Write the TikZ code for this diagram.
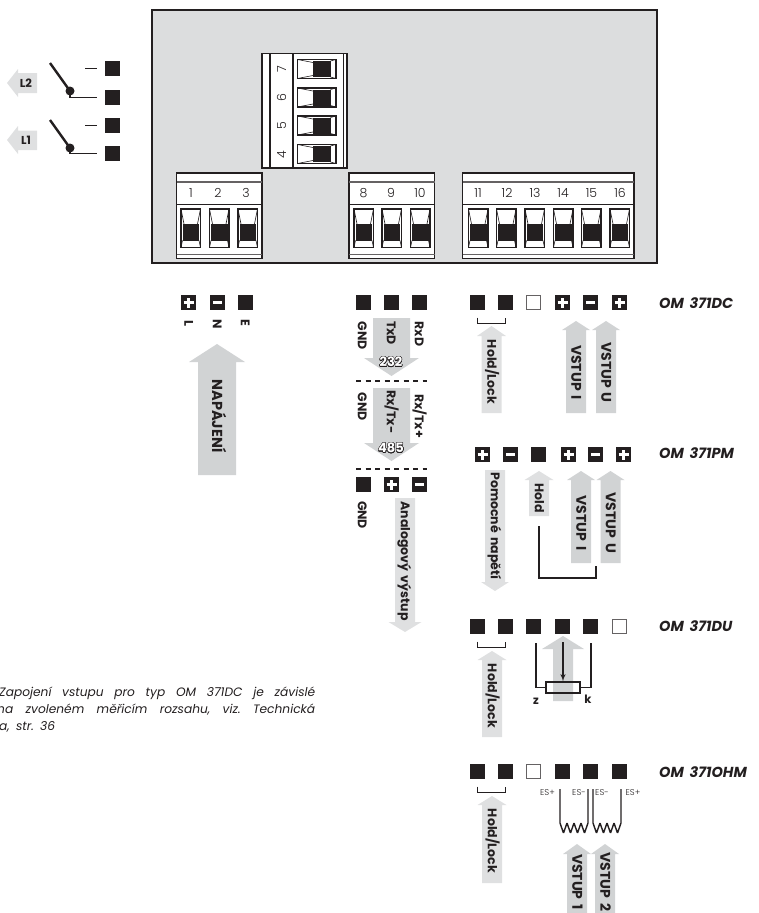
\documentclass[tikz,border=0pt]{standalone}
\usepackage{fontspec}
\usepackage{contour}
\usepackage{xcolor}
\setmainfont{Poppins}[WordSpace=1.7]
\newfontfamily\lightfont{Poppins Light}
\frenchspacing
\usetikzlibrary{arrows,calc,positioning}
\definecolor{ink}{HTML}{231F20}
\definecolor{panelgray}{HTML}{DCDDDE}
\definecolor{arrowgray}{HTML}{D1D3D4}
\definecolor{arrowlight}{HTML}{DFE0E1}
\contourlength{0.4pt}
\newcommand{\fsz}[1]{\fontsize{#1}{#1}\selectfont}
% x, half shaft, half head, y tip, y head base, y end
\newcommand{\grayarrow}[7][arrowgray]{\fill[#1] ({#2-#3},#7) -- ({#2-#3},#6) -- ({#2-#4},#6) -- (#2,#5) -- ({#2+#4},#6) -- ({#2+#3},#6) -- ({#2+#3},#7) -- cycle;}
\tikzset{%
	term/.style      = {fill=ink, rectangle, minimum size=15pt, inner sep=0pt}, % Black terminal
	termblank/.style = {draw=ink!70, fill=white, rectangle, line width=0.8pt, minimum size=14.5pt, inner sep=0pt},
	termplus/.style  = {term, path picture={\draw[white,line width=3pt] ([xshift=-5pt]path picture bounding box.center) -- ([xshift=5pt]path picture bounding box.center) ([yshift=-5pt]path picture bounding box.center) -- ([yshift=5pt]path picture bounding box.center);}},
	termminus/.style = {term, path picture={\draw[white,line width=3pt] ([xshift=-4.5pt]path picture bounding box.center) -- ([xshift=4.5pt]path picture bounding box.center);}},
	wire/.style      = {draw=ink, line width=1.4pt},
	vlabel/.style    = {rotate=-90, inner sep=0pt, text=ink, text height=8.5pt, text depth=0pt, font=\fsz{12.5}\bfseries},
	biglabel/.style  = {vlabel, text height=10pt, font=\fsz{14.5}\bfseries},
	stuplabel/.style = {vlabel, text height=9.5pt, font=\fsz{14}\bfseries},
	numlabel/.style  = {inner sep=0pt, text=ink, text height=9pt, text depth=0pt, font=\fsz{12.5}\lightfont},
	numrot/.style    = {numlabel, rotate=90},
	typelabel/.style = {anchor=west, inner sep=0pt, text=ink, text height=10pt, text depth=0pt, font=\fsz{14.5}\bfseries\itshape},
	smalllabel/.style= {inner sep=0pt, text=ink, text height=5.5pt, text depth=0pt, font=\fsz{8.5}\lightfont},
	boldlabel/.style = {inner sep=0pt, text=ink, text height=8pt, text depth=0pt, font=\fsz{11.5}\bfseries},
	outlined/.style  = {inner sep=0pt, text=white, text height=9.5pt, text depth=0pt, font=\fsz{13}\bfseries},
	notetext/.style  = {anchor=north west, inner sep=0pt, align=left, text=ink, font=\fontsize{12.2}{16.7}\selectfont\itshape},
	potbox/.style    = {draw=ink, line width=1.4pt, rectangle, minimum width=34pt, minimum height=11pt, inner sep=0pt},
	swdot/.style     = {fill=ink, circle, minimum size=9pt, inner sep=0pt},
	pics/screwv/.style = {code={
		\draw[wire,fill=white] (0,0) rectangle (19.5,38.5);
		\fill[ink] (1.5,15) rectangle (18,31.5);
		\draw[ink,line width=0.6pt] (0,0) -- (3,15) (19.5,0) -- (16.5,15) (1.5,31.5) -- (0,38.5) (18,31.5) -- (19.5,38.5);
	}},
	pics/screwh/.style = {code={
		\draw[wire,fill=white] (0,0) rectangle (38.5,19);
		\fill[ink] (15.5,1.5) rectangle (33,17.5);
		\draw[ink,line width=0.6pt] (0,0) -- (15.5,3) (0,19) -- (15.5,16) (33,1.5) -- (38.5,0) (33,17.5) -- (38.5,19);
	}},
}
\begin{document}
\begin{tikzpicture}[x=1pt,y=-1pt,>=latex']
	\useasboundingbox (0,0) rectangle (759,913);
	% case
	\draw[draw=ink,fill=panelgray,line width=2.6pt] (152,10) rectangle (657,263);
	% connector 4-7
	\draw[wire,fill=white] (262,53.5) rectangle (347,168);
	\draw[wire] (270,53.5) -- (270,168) (293,53.5) -- (293,168);
	\draw[ink,line width=0.7pt] (343.5,53.5) -- (343.5,168);
	\pic at (297.5,59.5) {screwh};
	\pic at (297.5,88) {screwh};
	\pic at (297.5,116) {screwh};
	\pic at (297.5,144.5) {screwh};
	\node[numrot] (n7) at (281.5,69) {7};
	\node[numrot] (n6) at (281.5,97.5) {6};
	\node[numrot] (n5) at (281.5,126) {5};
	\node[numrot] (n4) at (281.5,154.5) {4};
	% connectors 1-3, 8-10, 11-16
	\draw[wire,fill=white] (176.5,173) rectangle (262,258.5);
	\draw[wire,fill=white] (349,173) rectangle (434.5,258.5);
	\draw[wire,fill=white] (462.5,173) rectangle (634,258.5);
	\draw[ink!70,line width=1.2pt] (176.5,182) -- (262,182) (349,182) -- (434.5,182) (462.5,182) -- (634,182);
	\draw[wire] (176.5,204.5) -- (262,204.5) (349,204.5) -- (434.5,204.5) (462.5,204.5) -- (634,204.5);
	\draw[ink!70,line width=0.8pt] (176.5,254.5) -- (262,254.5) (349,254.5) -- (434.5,254.5) (462.5,254.5) -- (634,254.5);
	\pic at (181,209) {screwv};
	\pic at (209.5,209) {screwv};
	\pic at (238,209) {screwv};
	\pic at (354,209) {screwv};
	\pic at (382,209) {screwv};
	\pic at (410.5,209) {screwv};
	\pic at (468.5,209) {screwv};
	\pic at (496.5,209) {screwv};
	\pic at (525,209) {screwv};
	\pic at (553.5,209) {screwv};
	\pic at (581.5,209) {screwv};
	\pic at (610,209) {screwv};
	\node[numlabel] (n1) at (191,192.5) {1};
	\node[numlabel] (n2) at (218,192.5) {2};
	\node[numlabel] (n3) at (246,192.5) {3};
	\node[numlabel] (n8) at (363.5,192.5) {8};
	\node[numlabel] (n9) at (391,192.5) {9};
	\node[numlabel] (n10) at (420,192.5) {10};
	\node[numlabel] (n11) at (478,192.5) {11};
	\node[numlabel] (n12) at (507,192.5) {12};
	\node[numlabel] (n13) at (535,192.5) {13};
	\node[numlabel] (n14) at (563,192.5) {14};
	\node[numlabel] (n15) at (591.5,192.5) {15};
	\node[numlabel] (n16) at (620,192.5) {16};
	% relays
	\node[term] (k1) at (112.5,68.5) {};
	\node[term] (k2) at (112.5,97.5) {};
	\node[term] (k3) at (112.5,125.5) {};
	\node[term] (k4) at (112.5,153.5) {};
	\node[swdot] (swa) at (70,91) {};
	\node[swdot] (swb) at (70,148) {};
	\draw[ink,line width=2.4pt] (50,63) -- (swa.center);
	\draw[ink,line width=2.4pt] (50,120) -- (swb.center);
	\draw[wire] (swa.center) |- ([xshift=-7.5pt]k2.west);
	\draw[wire] (swb.center) |- ([xshift=-7.5pt]k4.west);
	\draw[wire] (85,68.5) -- ([xshift=-7.5pt]k1.west);
	\draw[wire] (85,125.5) -- ([xshift=-7.5pt]k3.west);
	\fill[arrowlight] (7,83) -- (18,69) -- (18,73) -- (37,73) -- (37,93) -- (18,93) -- (18,97) -- cycle;
	\fill[arrowlight] (7,140) -- (18,126) -- (18,130.5) -- (37,130.5) -- (37,150) -- (18,150) -- (18,154) -- cycle;
	\node[boldlabel] (l2) at (26,83) {L2};
	\node[boldlabel] (l1) at (26,140) {L1};
	% supply
	\node[termplus] (pw1) at (188.5,302.5) {};
	\node[termminus] (pw2) at (217.5,302.5) {};
	\node[term] (pw3) at (245.5,302.5) {};
	\node[vlabel] (lblL) at (188.5,323) {L};
	\node[vlabel] (lblN) at (217,324) {N};
	\node[vlabel] (lblE) at (245,323) {E};
	\grayarrow{217}{19}{28}{344}{362}{475}
	\node[biglabel] (napajeni) at (217,416) {NAPÁJENÍ};
	% serial and analog
	\node[term] (rs1) at (363.5,302.5) {};
	\node[term] (rs2) at (391.5,302.5) {};
	\node[term] (rs3) at (419.5,302.5) {};
	\grayarrow{391.5}{18.5}{27.5}{376}{358}{318}
	\node[vlabel] (gnda) at (362,336) {GND};
	\node[vlabel] (txd) at (391,333) {TxD};
	\node[vlabel] (rxd) at (419,334) {RxD};
	\node[outlined] (n232) at (391,362) {\contour{ink}{232}};
	\draw[ink,line width=1.2pt,dash pattern=on 5pt off 4.5pt] (356,381) -- (427,381);
	\grayarrow{391.5}{18.5}{27.5}{461}{443}{388}
	\node[vlabel] (gndb) at (362,407) {GND};
	\node[vlabel] (rxtxm) at (391,412) {Rx/Tx-};
	\node[vlabel] (rxtxp) at (419,416) {Rx/Tx+};
	\node[outlined] (n485) at (391,448) {\contour{ink}{485}};
	\draw[ink,line width=1.2pt,dash pattern=on 5pt off 4.5pt] (356,469) -- (427,469);
	\node[term] (an1) at (363.5,484.5) {};
	\node[termplus] (an2) at (391.5,484.5) {};
	\node[termminus] (an3) at (419.5,484.5) {};
	\node[vlabel] (gndc) at (362,515) {GND};
	\grayarrow[arrowlight]{405}{10}{16.5}{632}{622}{498}
	\node[vlabel] (analog) at (405,561) {Analogový výstup};
	% OM 371DC
	\node[term] (dc1) at (477.5,302.5) {};
	\node[term] (dc2) at (505.5,302.5) {};
	\node[termblank] (dc3) at (533.5,302.5) {};
	\node[termplus] (dc4) at (562.5,302.5) {};
	\node[termminus] (dc5) at (590.5,302.5) {};
	\node[termplus] (dc6) at (619.5,302.5) {};
	\node[typelabel] (dc) at (659,303) {OM 371DC};
	\draw[wire] ([yshift=-7.5pt]dc1.south) -- ++(0,6) -| ([yshift=-7.5pt]dc2.south);
	\grayarrow[arrowlight]{491.5}{10}{14.5}{326}{336}{413}
	\node[vlabel] (holda) at (491.5,372) {Hold/Lock};
	\grayarrow{576}{10}{14}{321}{330}{413}
	\node[stuplabel] (dci) at (576,372.5) {VSTUP I};
	\grayarrow{606}{10}{14}{321}{330}{413}
	\node[stuplabel] (dcu) at (606,372.5) {VSTUP U};
	% OM 371PM
	\node[termplus] (pm1) at (482.5,454.5) {};
	\node[termminus] (pm2) at (510.5,454.5) {};
	\node[term] (pm3) at (538.5,454.5) {};
	\node[termplus] (pm4) at (568.5,454.5) {};
	\node[termminus] (pm5) at (595.5,454.5) {};
	\node[termplus] (pm6) at (623.5,454.5) {};
	\node[typelabel] (pm) at (659,453) {OM 371PM};
	\grayarrow[arrowlight]{495}{10}{14}{591}{582}{470}
	\node[vlabel] (pomocne) at (495,526) {Pomocné napětí};
	\grayarrow[arrowlight]{539}{10}{14.5}{471}{480}{516}
	\node[vlabel] (hold) at (539,498) {Hold};
	\grayarrow{581}{10}{14}{471}{480}{563}
	\node[stuplabel] (pmi) at (581,523) {VSTUP I};
	\grayarrow{610.5}{10}{14}{471}{480}{563}
	\node[stuplabel] (pmu) at (610.5,523) {VSTUP U};
	\coordinate (holdend) at (539,526);
	\coordinate (stupend) at (596,566);
	\draw[wire] (holdend) |- (596,578) -- (stupend);
	% OM 371DU
	\node[term] (du1) at (477.5,626.5) {};
	\node[term] (du2) at (505.5,626.5) {};
	\node[term] (du3) at (533.5,626.5) {};
	\node[term] (du4) at (562.5,626.5) {};
	\node[term] (du5) at (590.5,626.5) {};
	\node[termblank] (du6) at (619.5,626.5) {};
	\node[typelabel] (du) at (659,626) {OM 371DU};
	\draw[wire] ([yshift=-7.5pt]du1.south) -- ++(0,5.5) -| ([yshift=-7.5pt]du2.south);
	\grayarrow[arrowlight]{492}{10}{14.5}{651}{660}{737}
	\node[vlabel] (holdb) at (492,696) {Hold/Lock};
	\grayarrow{563}{10}{21}{636}{649}{701}
	\node[potbox] (pot) at (563,687.5) {};
	\coordinate (wipe) at (563,642);
	\coordinate (potz) at (536,643);
	\coordinate (potk) at (591,643);
	\draw[wire,->] (wipe) -- (pot.north);
	\draw[wire] (potz) |- (pot.west);
	\draw[wire] (potk) |- (pot.east);
	\node[boldlabel] (lblz) at (536,700.5) {z};
	\node[boldlabel] (lblk) at (588,699) {k};
	% OM 371OHM
	\node[term] (oh1) at (477.5,771.5) {};
	\node[term] (oh2) at (505.5,771.5) {};
	\node[termblank] (oh3) at (533.5,771.5) {};
	\node[term] (oh4) at (562.5,771.5) {};
	\node[term] (oh5) at (590.5,771.5) {};
	\node[term] (oh6) at (619.5,771.5) {};
	\node[typelabel] (ohm) at (659,772) {OM 371OHM};
	\draw[wire] ([yshift=-7.5pt]oh1.south) -- ++(0,5.5) -| ([yshift=-7.5pt]oh2.south);
	\grayarrow[arrowlight]{492}{10}{14.5}{796}{805}{883}
	\node[vlabel] (holdc) at (492,841) {Hold/Lock};
	\coordinate (esa) at (560,789);
	\coordinate (esb) at (588,789);
	\coordinate (esc) at (593,789);
	\coordinate (esd) at (621,789);
	\draw[wire,line join=bevel] (esa) -- ++(0,34) -- ++(3.5,10) -- ++(3.5,-10) -- ++(3.5,10) -- ++(3.5,-10) -- ++(3.5,10) -- ++(3.5,-10) -- ++(3.5,10) -- ++(3.5,-10) -- (esb);
	\draw[wire,line join=bevel] (esc) -- ++(0,34) -- ++(3.5,10) -- ++(3.5,-10) -- ++(3.5,10) -- ++(3.5,-10) -- ++(3.5,10) -- ++(3.5,-10) -- ++(3.5,10) -- ++(3.5,-10) -- (esd);
	\node[smalllabel] (esp1) at (547.5,793) {ES+};
	\node[smalllabel] (esm1) at (579,793) {ES-};
	\node[smalllabel] (esm2) at (602,793) {ES-};
	\node[smalllabel] (esp2) at (633,793) {ES+};
	\grayarrow{577}{10}{14}{844}{854}{913}
	\node[stuplabel] (vst1) at (577,882) {VSTUP 1};
	\grayarrow{605}{10}{14}{844}{854}{913}
	\node[stuplabel] (vst2) at (605,882) {VSTUP 2};
	% note
	\node[notetext] (note) at (-3,687) {\makebox[318pt][s]{\hspace{2pt}Zapojení vstupu pro typ OM 371DC je závislé}\\\makebox[318pt][s]{na zvoleném měřicím rozsahu, viz. Technická}\\\hspace{2pt}a, str. 36};
\end{tikzpicture}
\end{document}
